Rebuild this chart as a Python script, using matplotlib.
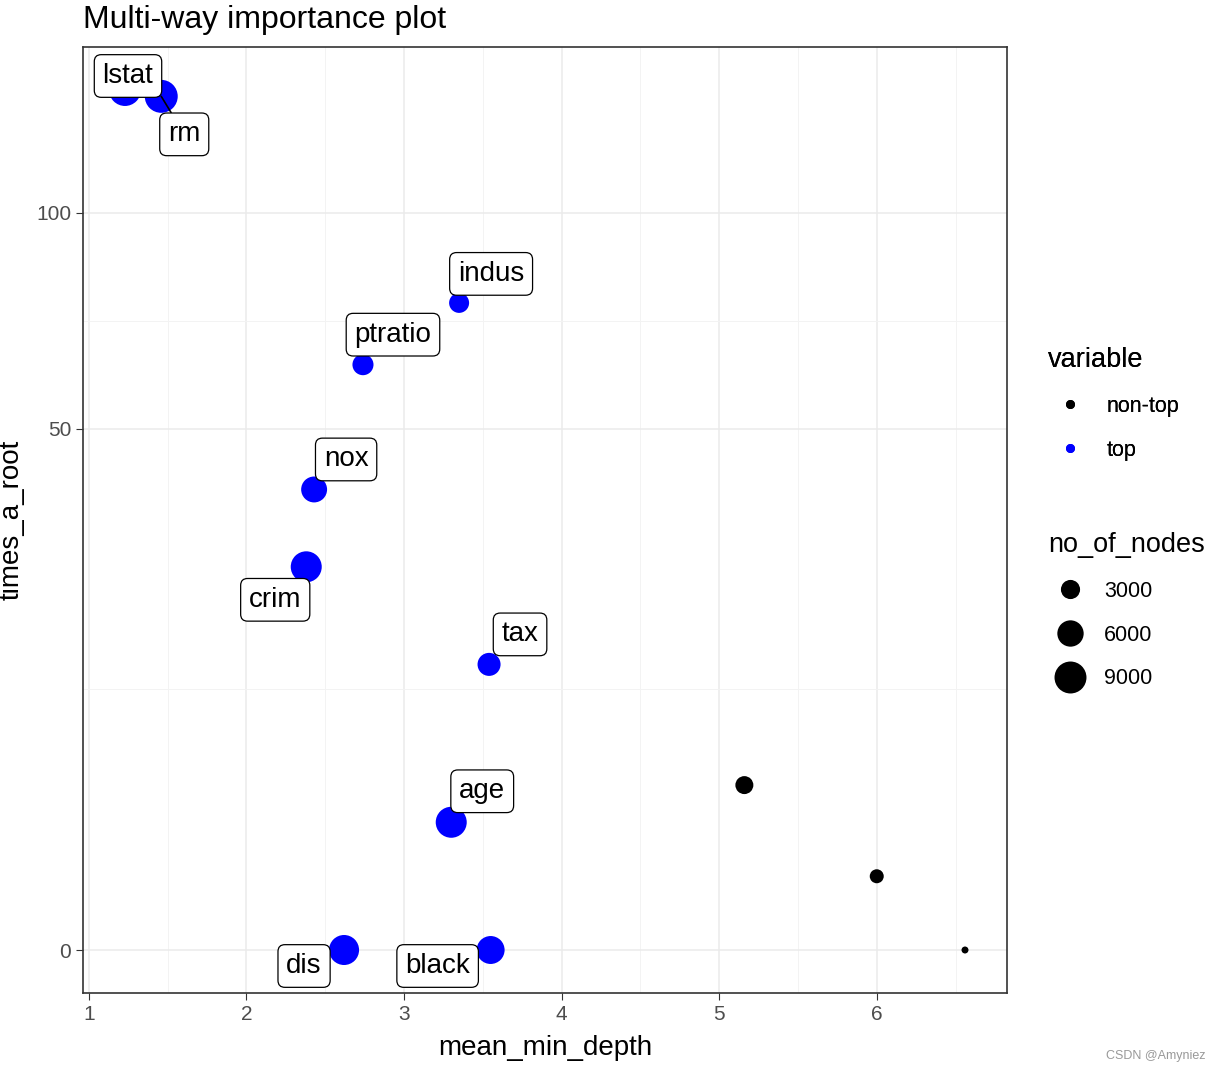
import numpy as np
import matplotlib
matplotlib.use('Agg')
import matplotlib.pyplot as plt
from matplotlib.lines import Line2D

plt.rcParams['font.family'] = ['Liberation Sans', 'DejaVu Sans']

variables = ['lstat', 'rm', 'indus', 'ptratio', 'nox', 'crim', 'tax', 'age', 'dis', 'black',
             'chas', 'zn', 'rad']
mean_min_depth = [1.23, 1.46, 3.35, 2.74, 2.43, 2.38, 3.54, 3.30, 2.62, 3.55, 5.16, 6.00, 6.56]
times_a_root = [136, 134, 77, 63, 39, 27, 15, 3, 0, 0, 5, 1, 0]
no_of_nodes = [9000, 9600, 3300, 3700, 5800, 8450, 4500, 8450, 7900, 6800, 2600, 1430, 80]
group = ['top'] * 10 + ['non-top'] * 3
# label offsets (pixels) from point to label-box centre, as placed by the repel
label_dx = [3, 23, 32, 30, 32, -31, 31, 31, -40, -53]
label_dy = [-14, 38, -29, -30, -30, 33, -30, -31, 16, 16]

col = {'top': '#0000FF', 'non-top': 'black'}
PX = 0.72  # points per pixel at dpi 100


def size_of(v):
    # marker area (pt^2): diameter^2 linear in node count
    return (PX ** 2) * (40 + 0.109 * np.asarray(v, float))


fwd = lambda y: np.sign(y) * np.sqrt(np.abs(y))
inv = lambda y: np.sign(y) * np.square(y)

fig = plt.figure(figsize=(12.22, 10.72), dpi=100)
ax = fig.add_axes([83 / 1222, 1 - 993 / 1072, 924 / 1222, 946 / 1072])
ax.set_yscale('function', functions=(fwd, inv))

x = np.array(mean_min_depth)
y = np.array(times_a_root, float)
ax.scatter(x, y, s=size_of(no_of_nodes), c=[col[g] for g in group], linewidths=0, zorder=3)

# ggplot-like expansion (5%), y in sqrt space
xr = x.max() - x.min()
ax.set_xlim(x.min() - 0.05 * xr, x.max() + 0.05 * xr)
ty = np.sqrt(y)
tr = ty.max() - ty.min()
ax.set_ylim(inv(ty.min() - 0.05 * tr), inv(ty.max() + 0.05 * tr))

ax.set_xticks([1, 2, 3, 4, 5, 6])
ax.set_xticks(np.arange(1.5, 7, 1), minor=True)
major_y = np.array([0, 50, 100])
ax.set_yticks(major_y)
ms = np.sqrt(major_y)
ax.set_yticks(inv((ms[:-1] + ms[1:]) / 2), minor=True)
ax.grid(which='major', color='#EBEBEB', lw=1.1)
ax.grid(which='minor', color='#F3F3F3', lw=0.7)
ax.set_axisbelow(True)
ax.tick_params(which='major', labelsize=15, labelcolor='#4D4D4D', color='#333333', length=5)
ax.tick_params(which='minor', length=0)
for s in ax.spines.values():
    s.set_color('#333333')
    s.set_linewidth(1.2)

ax.set_xlabel('mean_min_depth', fontsize=20, labelpad=8)
ax.set_ylabel('times_a_root', fontsize=20, labelpad=8)
ax.set_title('Multi-way importance plot', fontsize=23, loc='left', pad=14)

for i in range(10):
    arrow = dict(arrowstyle='-', color='black', lw=1.2, shrinkA=0, shrinkB=0) if variables[i] == 'rm' else None
    ax.annotate(variables[i], (x[i], y[i]), xytext=(label_dx[i] * PX, -label_dy[i] * PX),
                textcoords='offset points', ha='center', va='center', fontsize=20, zorder=4,
                bbox=dict(boxstyle='round,pad=0.3,rounding_size=0.25', fc='white', ec='black', lw=0.9),
                arrowprops=arrow)

h1 = [Line2D([], [], ls='', marker='o', ms=9 * PX, color=col[g], mew=0) for g in ['non-top', 'top']]
leg1 = fig.legend(h1, ['non-top', 'top'], title='variable', loc='upper left',
                  bbox_to_anchor=(1029 / 1222, 1 - 328 / 1072), frameon=False, fontsize=15.5,
                  title_fontsize=19.5, labelspacing=1.05, handletextpad=0.7, alignment='left')
fig.add_artist(leg1)
breaks = [3000, 6000, 9000]
h2 = [Line2D([], [], ls='', marker='o', ms=np.sqrt(size_of(b)), color='black', mew=0) for b in breaks]
fig.legend(h2, [str(b) for b in breaks], title='no_of_nodes', loc='upper left',
           bbox_to_anchor=(1029 / 1222, 1 - 513 / 1072), frameon=False, fontsize=15.5,
           title_fontsize=19.5, labelspacing=1.05, handletextpad=0.6, alignment='left')

fig.text(1206 / 1222, 1 - 1056 / 1072, 'CSDN @Amyniez', fontsize=9, color='#999999', ha='right', va='center')

fig.savefig('out.png', dpi=100)
